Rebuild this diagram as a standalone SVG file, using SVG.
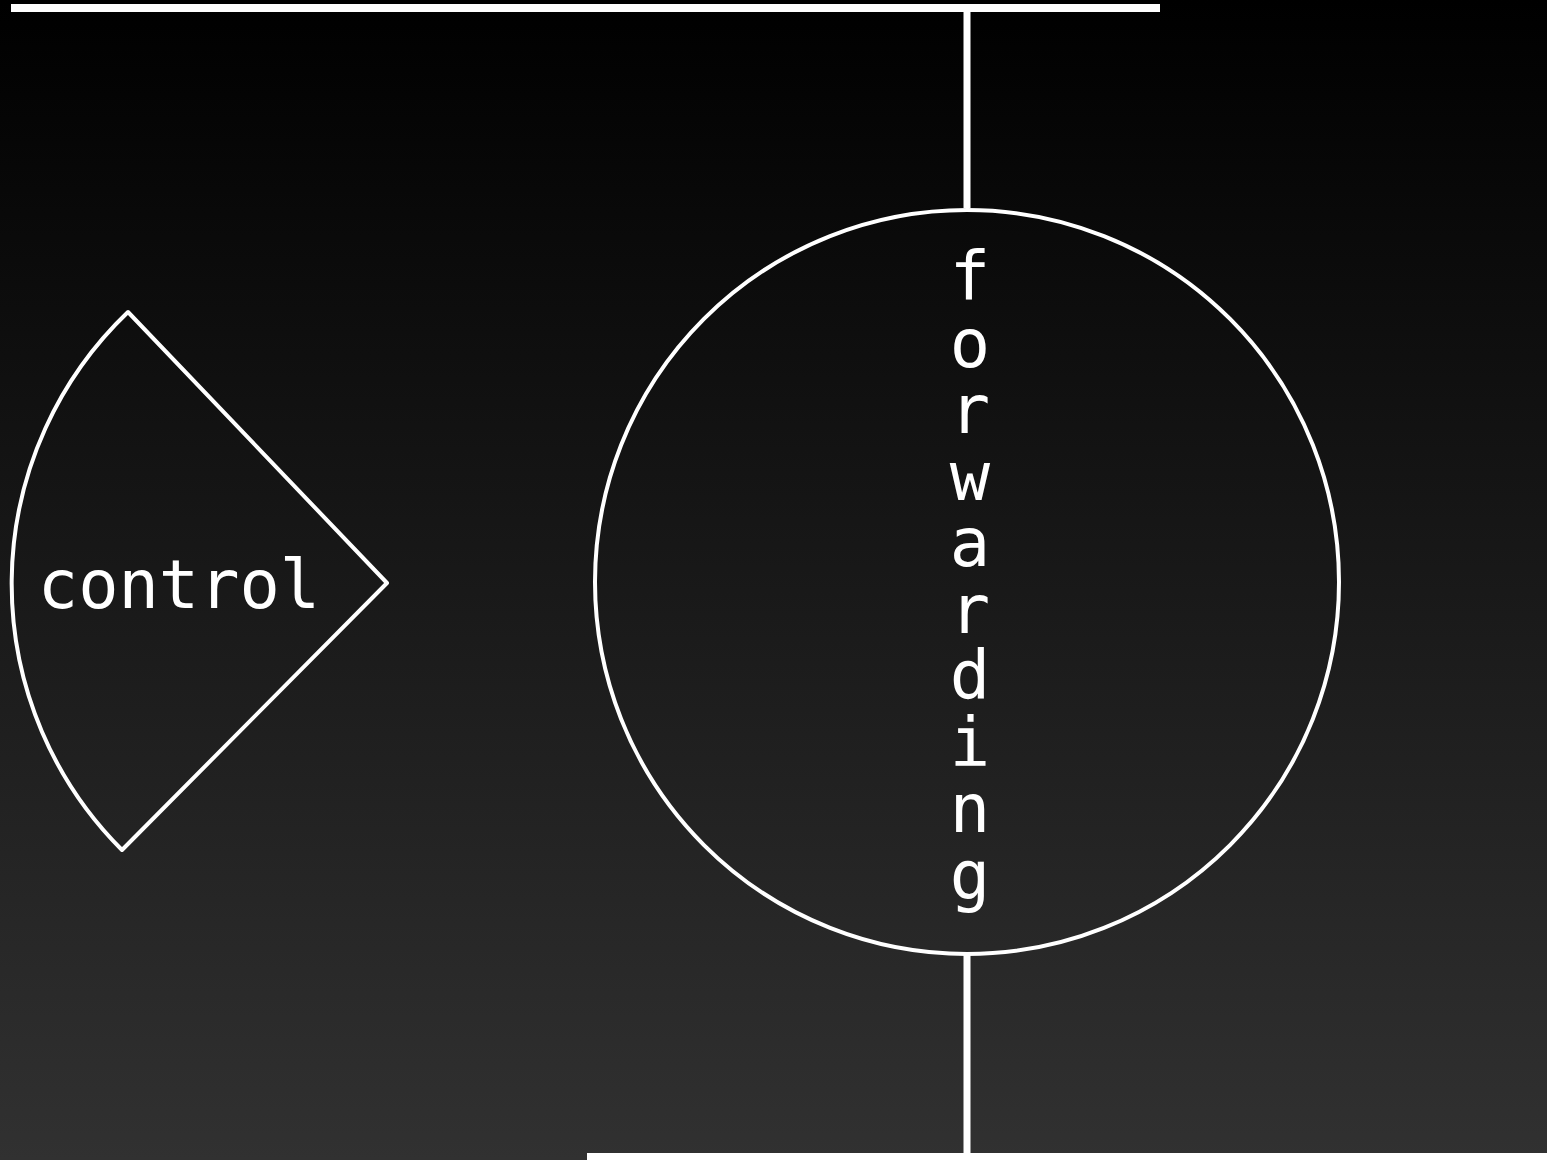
<svg xmlns="http://www.w3.org/2000/svg" width="1547" height="1160" viewBox="0 0 1547 1160">
<defs>
<linearGradient id="bg" x1="0" y1="0" x2="0" y2="1">
<stop offset="0" stop-color="#000000"/>
<stop offset="1" stop-color="#313131"/>
</linearGradient>
<style>
.shape{fill:none;stroke:#ffffff;stroke-width:4;stroke-linejoin:round}
.wire{fill:none;stroke:#ffffff;stroke-width:7}
.lbl{fill:#ffffff;font-family:"DejaVu Sans Mono","Liberation Mono",monospace;font-size:67px;text-anchor:middle}
</style>
</defs>
<rect x="0" y="0" width="1547" height="1160" fill="url(#bg)"/>
<g id="connectors">
<rect x="11" y="4" width="1149" height="8" fill="#ffffff"/>
<line class="wire" x1="967" y1="12" x2="967" y2="208"/>
<line class="wire" x1="967" y1="955" x2="967" y2="1153"/>
<rect x="587" y="1153" width="960" height="7" fill="#ffffff"/>
</g>
<g id="control">
<path class="shape" d="M128,312 L387,583 L122,850 A376,376 0 0,1 128,312 Z"/>
<text class="lbl" x="179" y="608">control</text>
</g>
<g id="forwarding">
<circle class="shape" cx="967" cy="582" r="372"/>
<text class="lbl" x="970" y="300">f</text>
<text class="lbl" x="970" y="366.5">o</text>
<text class="lbl" x="970" y="433">r</text>
<text class="lbl" x="970" y="499.5">w</text>
<text class="lbl" x="970" y="566">a</text>
<text class="lbl" x="970" y="632.5">r</text>
<text class="lbl" x="970" y="699">d</text>
<text class="lbl" x="970" y="765.5">i</text>
<text class="lbl" x="970" y="832">n</text>
<text class="lbl" x="970" y="898.5">g</text>
</g>
</svg>
